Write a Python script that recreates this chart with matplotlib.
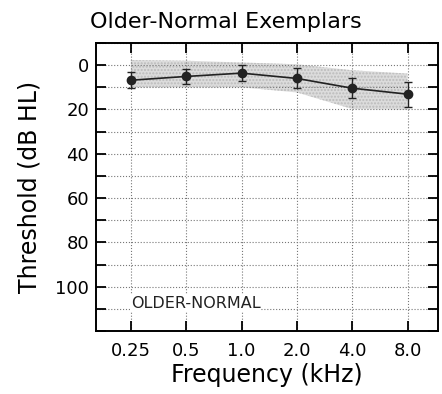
import matplotlib
matplotlib.use('Agg')

import matplotlib.pyplot as plt
import numpy as np

# Audiogram data.
freq_labels = ["0.25", "0.5", "1.0", "2.0", "4.0", "8.0"]
mean_thresh = [6.8, 5.1, 3.6, 6.0, 10.4, 13.1]
err_thresh = [3.5, 3.4, 3.7, 4.5, 4.5, 5.6]
band_top = [-2.3, -2.0, -1.2, -0.4, 2.3, 3.8]
band_bottom = [10.0, 10.0, 10.0, 12.3, 19.8, 20.0]
y_ticks = [0, 20, 40, 60, 80, 100]

x = np.arange(len(freq_labels))

fig = plt.figure(figsize=(4.42, 3.94), dpi=100)
ax = fig.add_axes([96 / 442, 1 - 331 / 394, (438 - 96) / 442, (331 - 43) / 394])

# Shaded normal range.
ax.fill_between(x, band_top, band_bottom, facecolor='#dcdcdc', edgecolor='#bbbbbb',
                hatch='.....', linewidth=0, zorder=1)

ax.errorbar(x, mean_thresh, yerr=err_thresh, color='#222222', marker='o', markersize=6,
            linewidth=1.2, capsize=3, elinewidth=1, zorder=3)

ax.set_xlim(-0.63, 5.55)
ax.set_ylim(120, -10)

ax.set_xticks(x)
ax.set_xticklabels(freq_labels)
ax.set_yticks(y_ticks)
ax.set_yticks(np.arange(-10, 121, 10), minor=True)

ax.grid(True, which='both', linestyle=':', color='#777777', linewidth=0.8)
ax.tick_params(which='both', direction='in', top=True, right=True, length=7, width=1.3,
               labelsize=13)
ax.tick_params(axis='x', pad=8)
ax.tick_params(axis='y', pad=5)
for s in ax.spines.values():
    s.set_linewidth(1.4)

ax.text(0, 107.5, "OLDER-NORMAL", fontsize=11.5, ha='left', va='center', color='#222222',
        zorder=4, bbox=dict(facecolor='white', edgecolor='none', pad=0.5))

ax.set_xlabel("Frequency (kHz)", fontsize=17, labelpad=2)
ax.set_ylabel("Threshold (dB HL)", fontsize=17, labelpad=10)
fig.text(226 / 442, 1 - 22 / 394, "Older-Normal Exemplars", ha='center', va='center',
         fontsize=16)

plt.savefig("out.png")
plt.close(fig)
